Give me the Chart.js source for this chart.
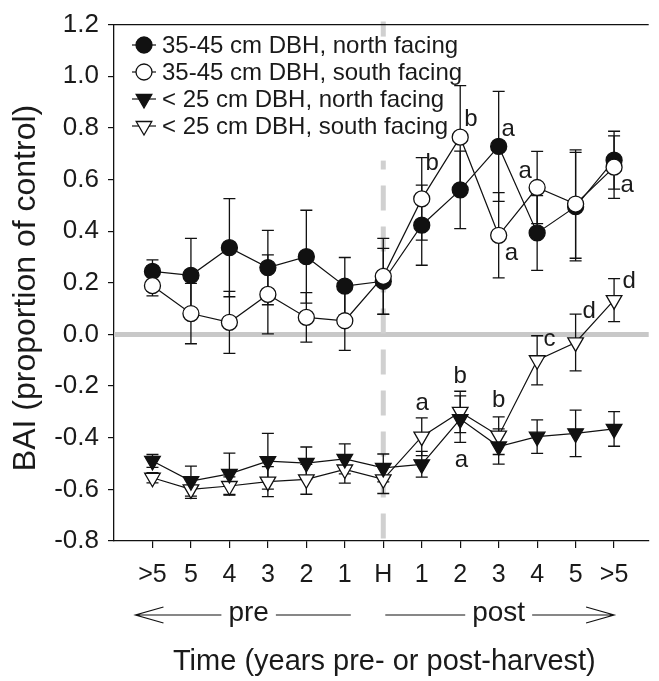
<!DOCTYPE html>
<html>
<head>
<meta charset="utf-8">
<script src="https://cdn.jsdelivr.net/npm/chart.js@4.4.1/dist/chart.umd.min.js"></script>
<style>
  html, body { margin: 0; padding: 0; background: #fff; }
  #wrap { width: 659px; height: 681px; }
</style>
</head>
<body>
<div id="wrap"><canvas id="chart" width="659" height="681"></canvas></div>
<script>
// x categories (years pre / post harvest)
const xLabels = ['>5', '5', '4', '3', '2', '1', 'H', '1', '2', '3', '4', '5', '>5'];
const yTicks = [-0.8, -0.6, -0.4, -0.2, 0, 0.2, 0.4, 0.6, 0.8, 1.0, 1.2];

// 35-45 cm DBH
const bigNorth    = [0.244, 0.229, 0.336, 0.259, 0.301, 0.187, 0.206, 0.423, 0.560, 0.728, 0.393, 0.495, 0.675];
const bigNorthErr = [0.045, 0.143, 0.190, 0.144, 0.180, 0.111, 0.127, 0.155, 0.150, 0.213, 0.145, 0.210, 0.112];
const bigSouth    = [0.189, 0.081, 0.047, 0.155, 0.066, 0.053, 0.225, 0.525, 0.764, 0.384, 0.569, 0.505, 0.648];
const bigSouthErr = [0.040, 0.117, 0.120, 0.153, 0.096, 0.115, 0.147, 0.160, 0.200, 0.165, 0.140, 0.210, 0.121];

// < 25 cm DBH
const smallNorth    = [-0.490, -0.568, -0.540, -0.491, -0.498, -0.482, -0.517, -0.503, -0.328, -0.434, -0.396, -0.383, -0.366];
const smallNorthErr = [0.025, 0.058, 0.080, 0.108, 0.062, 0.058, 0.054, 0.050, 0.090, 0.068, 0.065, 0.090, 0.067];
const smallSouth    = [-0.555, -0.600, -0.587, -0.570, -0.561, -0.523, -0.561, -0.396, -0.300, -0.392, -0.100, -0.031, 0.133];
const smallSouthErr = [0.020, 0.035, 0.035, 0.058, 0.058, 0.053, 0.055, 0.073, 0.080, 0.073, 0.095, 0.110, 0.083];

// significance letters (anchored in data units)
const letters = ['b', 'b', 'a', 'a', 'a', 'a', 'd', 'd', 'c', 'b', 'b', 'a', 'a'];
const letterX = [7.27, 8.28, 9.25, 9.69, 9.33, 12.34, 12.39, 11.35, 10.32, 9.0, 8.0, 7.01, 8.03];
const letterY = [0.663, 0.832, 0.793, 0.633, 0.315, 0.576, 0.205, 0.09, -0.021, -0.254, -0.163, -0.266, -0.488];

const legendLabels = [
  '35-45 cm DBH, north facing',
  '35-45 cm DBH, south facing',
  '< 25 cm DBH, north facing',
  '< 25 cm DBH, south facing'
];

const FONT = "'Liberation Sans', Arial, sans-serif";
const toXY = arr => arr.map((v, i) => ({ x: i, y: v }));

function series(label, values, errs, style, fill, order) {
  return {
    label,
    data: toXY(values),
    errors: errs,
    order,
    borderColor: '#111',
    borderWidth: 1.2,
    pointStyle: style,
    pointRotation: style === 'triangle' ? 180 : 0,
    pointRadius: style === 'triangle' ? 9 : 8,
    pointBackgroundColor: fill,
    pointBorderColor: '#111',
    pointBorderWidth: 1.3,
    fill: false,
    tension: 0
  };
}

const datasets = [
  series(legendLabels[0], bigNorth, bigNorthErr, 'circle', '#111', 1),
  series(legendLabels[1], bigSouth, bigSouthErr, 'circle', '#fff', 0),
  series(legendLabels[2], smallNorth, smallNorthErr, 'triangle', '#111', 2),
  series(legendLabels[3], smallSouth, smallSouthErr, 'triangle', '#fff', 3)
];

function marker(ctx, style, fill, x, y, r) {
  ctx.beginPath();
  if (style === 'circle') {
    ctx.arc(x, y, r, 0, Math.PI * 2);
  } else {
    ctx.moveTo(x - r * 0.866, y - r / 2);
    ctx.lineTo(x + r * 0.866, y - r / 2);
    ctx.lineTo(x, y + r);
    ctx.closePath();
  }
  ctx.fillStyle = fill;
  ctx.fill();
  ctx.lineWidth = 1.3;
  ctx.strokeStyle = '#111';
  ctx.stroke();
}

const decor = {
  id: 'decor',
  beforeDatasetsDraw(chart) {
    const { ctx, chartArea: a, scales: { x, y } } = chart;
    ctx.save();
    // zero reference line
    ctx.strokeStyle = '#c8c8c8';
    ctx.lineWidth = 5;
    ctx.beginPath();
    ctx.moveTo(a.left, y.getPixelForValue(0));
    ctx.lineTo(a.right, y.getPixelForValue(0));
    ctx.stroke();
    // harvest dashed line
    ctx.strokeStyle = '#d0d0d0';
    ctx.setLineDash([25, 16]);
    ctx.beginPath();
    ctx.moveTo(x.getPixelForValue(6), a.top - 3);
    ctx.lineTo(x.getPixelForValue(6), a.bottom);
    ctx.stroke();
    ctx.setLineDash([]);

    // legend with white box
    ctx.fillStyle = '#fff';
    ctx.fillRect(a.left + 8, a.top + 12, 345, 124);
    const rowY = [45, 72, 99, 126];
    datasets.forEach((d, i) => {
      const yy = rowY[i];
      ctx.strokeStyle = '#111';
      ctx.lineWidth = 1.2;
      ctx.beginPath();
      ctx.moveTo(132, yy);
      ctx.lineTo(156, yy);
      ctx.stroke();
      marker(ctx, d.pointStyle, d.pointBackgroundColor, 144, yy, d.pointStyle === 'circle' ? 8 : 9);
      ctx.fillStyle = '#1a1a1a';
      ctx.font = '24px ' + FONT;
      ctx.textAlign = 'left';
      ctx.textBaseline = 'middle';
      ctx.fillText(d.label, 162, yy + 1);
    });

    // error bars
    ctx.strokeStyle = '#111';
    ctx.lineWidth = 1.3;
    datasets.forEach(d => {
      d.data.forEach((p, i) => {
        const px = x.getPixelForValue(p.x);
        const hi = y.getPixelForValue(p.y + d.errors[i]);
        const lo = y.getPixelForValue(p.y - d.errors[i]);
        ctx.beginPath();
        ctx.moveTo(px, hi); ctx.lineTo(px, lo);
        ctx.moveTo(px - 6, hi); ctx.lineTo(px + 6, hi);
        ctx.moveTo(px - 6, lo); ctx.lineTo(px + 6, lo);
        ctx.stroke();
      });
    });
    ctx.restore();
  },
  afterDraw(chart) {
    const { ctx, chartArea: a, scales: { x, y } } = chart;
    ctx.save();
    // top frame line
    ctx.strokeStyle = '#111';
    ctx.lineWidth = 1.3;
    ctx.beginPath();
    ctx.moveTo(a.left, a.top);
    ctx.lineTo(a.right, a.top);
    ctx.stroke();

    // letters
    ctx.fillStyle = '#1a1a1a';
    ctx.font = '24px ' + FONT;
    ctx.textAlign = 'center';
    ctx.textBaseline = 'middle';
    letters.forEach((t, i) => {
      ctx.fillText(t, x.getPixelForValue(letterX[i]), y.getPixelForValue(letterY[i]));
    });

    // pre / post arrows
    const ay = 615;
    ctx.font = '28px ' + FONT;
    ctx.lineWidth = 1.2;
    const preC = x.getPixelForValue(2.5), postC = x.getPixelForValue(9);
    const preW = ctx.measureText('pre').width / 2 + 7;
    const postW = ctx.measureText('post').width / 2 + 7;
    const l0 = x.getPixelForValue(0) - 17, l1 = x.getPixelForValue(5) + 6;
    const r0 = x.getPixelForValue(6) + 2, r1 = x.getPixelForValue(12);
    ctx.beginPath();
    ctx.moveTo(l0, ay); ctx.lineTo(preC - preW, ay);
    ctx.moveTo(preC + preW, ay); ctx.lineTo(l1, ay);
    ctx.moveTo(l0 + 28, ay - 8); ctx.lineTo(l0, ay); ctx.lineTo(l0 + 28, ay + 8);
    ctx.moveTo(r0, ay); ctx.lineTo(postC - postW, ay);
    ctx.moveTo(postC + postW, ay); ctx.lineTo(r1, ay);
    ctx.moveTo(r1 - 28, ay - 8); ctx.lineTo(r1, ay); ctx.lineTo(r1 - 28, ay + 8);
    ctx.stroke();
    ctx.fillText('pre', preC, ay - 2);
    ctx.fillText('post', postC, ay - 2);

    // axis titles
    ctx.font = '29px ' + FONT;
    ctx.fillText('Time (years pre- or post-harvest)', (a.left + a.right) / 2 + 3, 662);
    ctx.translate(26, 288);
    ctx.rotate(-Math.PI / 2);
    ctx.font = '32px ' + FONT;
    ctx.fillText('BAI (proportion of control)', 0, 0);
    ctx.restore();
  }
};

new Chart(document.getElementById('chart'), {
  type: 'line',
  data: { datasets },
  options: {
    responsive: false,
    devicePixelRatio: 1,
    animation: false,
    events: [],
    layout: { padding: { top: 16, right: 0, bottom: 0, left: 0 } },
    plugins: { legend: { display: false }, tooltip: { enabled: false } },
    scales: {
      x: {
        type: 'linear',
        min: -1,
        max: 12.9,
        afterBuildTicks: s => { s.ticks = xLabels.map((_, i) => ({ value: i })); },
        afterFit: s => { s.height = 140; },
        grid: { drawOnChartArea: false, tickLength: 7, color: '#111', lineWidth: 1.2 },
        border: { color: '#111', width: 1.3 },
        ticks: {
          autoSkip: false, maxRotation: 0, padding: 12, color: '#1a1a1a',
          font: { family: FONT, size: 25 },
          callback: v => xLabels[v] ?? ''
        }
      },
      y: {
        min: -0.8,
        max: 1.2,
        afterBuildTicks: s => { s.ticks = yTicks.map(v => ({ value: v })); },
        afterFit: s => { s.width = 114; },
        grid: { drawOnChartArea: false, tickLength: 6, color: '#111', lineWidth: 1.2 },
        border: { color: '#111', width: 1.3 },
        ticks: {
          padding: 9, color: '#1a1a1a',
          font: { family: FONT, size: 26 },
          callback: v => (Math.abs(v) < 1e-9 ? 0 : v).toFixed(1)
        }
      }
    }
  },
  plugins: [decor]
});
</script>
</body>
</html>
